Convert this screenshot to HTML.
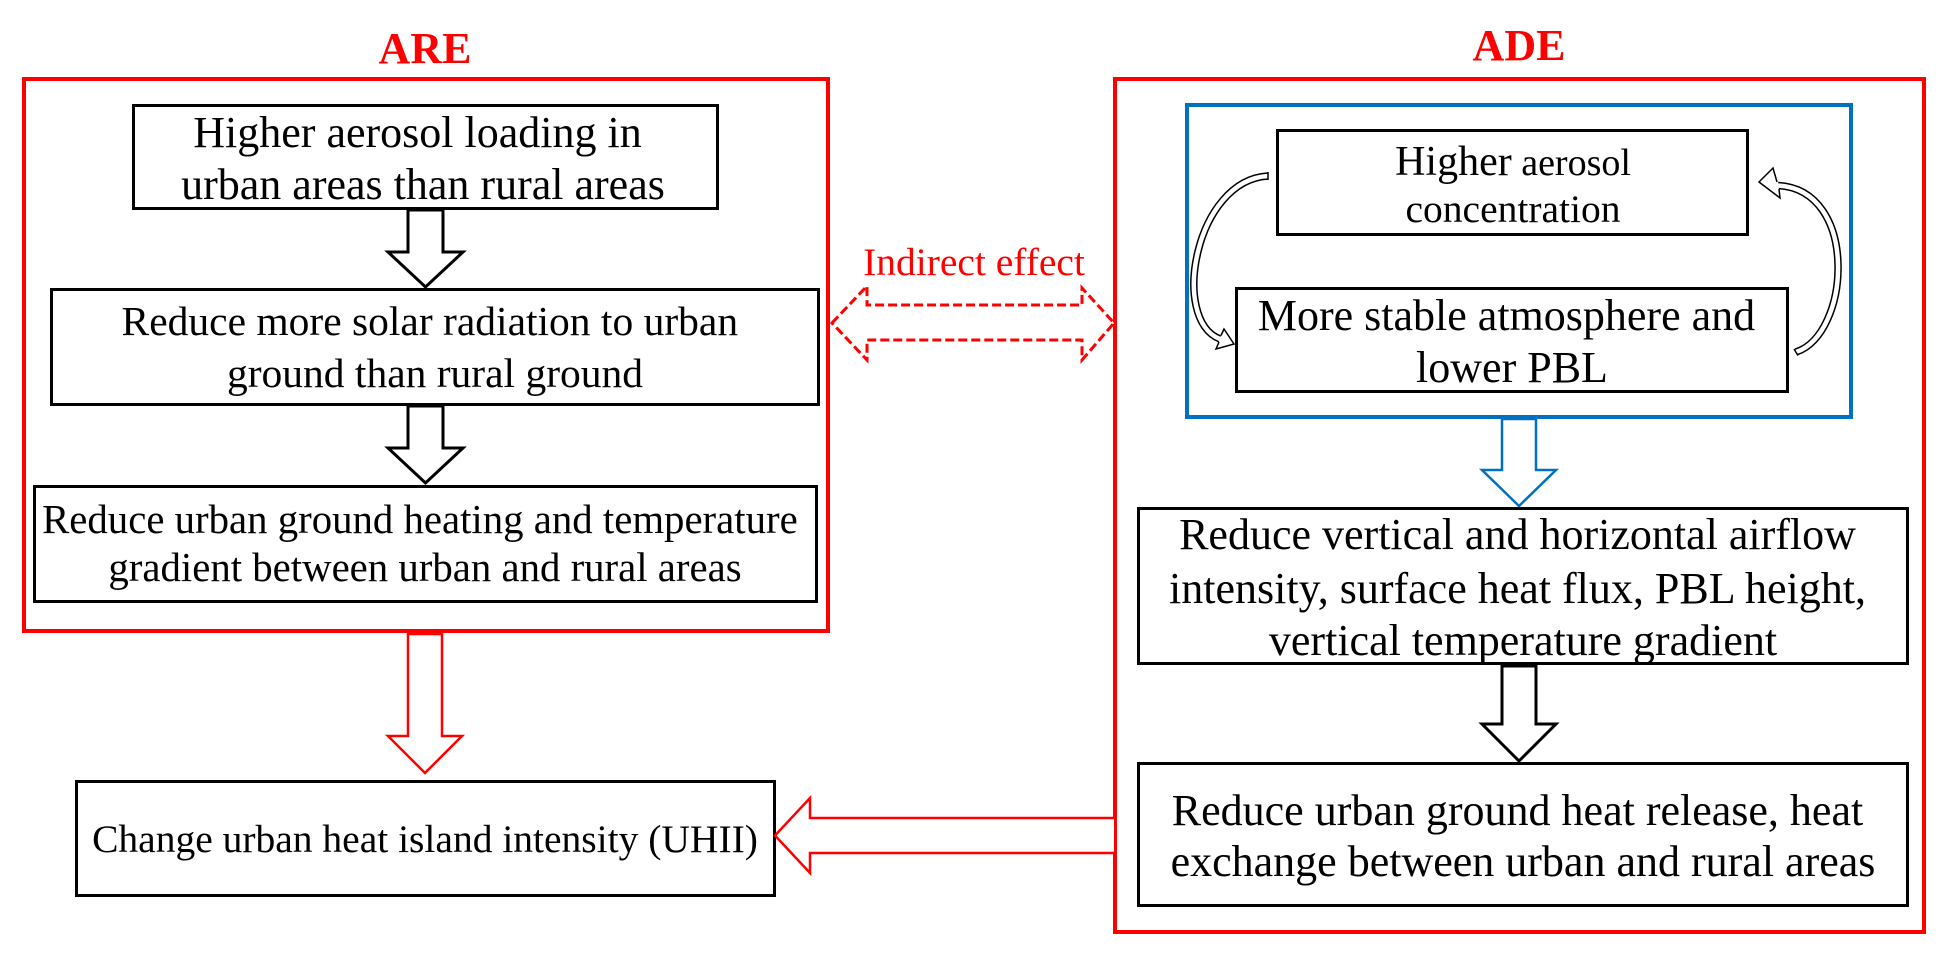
<!DOCTYPE html>
<html>
<head>
<meta charset="utf-8">
<style>
  html, body { margin: 0; padding: 0; background: #fff; }
  svg { display: block; }
  text { font-family: "Liberation Serif", "Times New Roman", serif; }
</style>
</head>
<body>
<svg width="1946" height="957" viewBox="0 0 1946 957" xmlns="http://www.w3.org/2000/svg">
  <rect x="0" y="0" width="1946" height="957" fill="#fff"/>

  <!-- Titles -->
  <text x="425" y="63" font-size="44" font-weight="bold" fill="#ff0000" text-anchor="middle">ARE</text>
  <text x="1519" y="60" font-size="44" font-weight="bold" fill="#ff0000" text-anchor="middle">ADE</text>

  <!-- Outer red boxes -->
  <rect x="24" y="79" width="804" height="552" fill="none" stroke="#ff0000" stroke-width="4"/>
  <rect x="1115" y="79" width="809" height="853" fill="none" stroke="#ff0000" stroke-width="4"/>

  <!-- Blue box -->
  <rect x="1187" y="105" width="664" height="312" fill="none" stroke="#0070c0" stroke-width="4"/>

  <!-- ARE boxes -->
  <rect x="133.5" y="105.5" width="584" height="103" fill="#fff" stroke="#000" stroke-width="3"/>
  <text font-size="44" text-anchor="middle" fill="#000">
    <tspan x="423" y="147">Higher aerosol loading in</tspan>
    <tspan x="423" y="199">urban areas than rural areas</tspan>
  </text>

  <polygon points="408,210 443,210 443,252 463,252 425.5,287 388,252 408,252" fill="#fff" stroke="#000" stroke-width="3" stroke-linejoin="miter"/>

  <rect x="51.5" y="289.5" width="767" height="115" fill="#fff" stroke="#000" stroke-width="3"/>
  <text font-size="41.5" text-anchor="middle" fill="#000">
    <tspan x="435" y="335">Reduce more solar radiation to urban</tspan>
    <tspan x="435" y="387">ground than rural ground</tspan>
  </text>

  <polygon points="408,406 443,406 443,448 463,448 425.5,483 388,448 408,448" fill="#fff" stroke="#000" stroke-width="3" stroke-linejoin="miter"/>

  <rect x="34.5" y="486.5" width="782" height="115" fill="#fff" stroke="#000" stroke-width="3"/>
  <text font-size="40.8" text-anchor="middle" fill="#000">
    <tspan x="425" y="533">Reduce urban ground heating and temperature</tspan>
    <tspan x="425" y="581">gradient between urban and rural areas</tspan>
  </text>

  <!-- Red down arrow -->
  <polygon points="408,634 442,634 442,736 462,736 425,773 388,736 408,736" fill="#fff" stroke="#ff0000" stroke-width="2.5"/>

  <!-- UHII box -->
  <rect x="76.5" y="781.5" width="698" height="114" fill="#fff" stroke="#000" stroke-width="3"/>
  <text x="425" y="852" font-size="39.5" text-anchor="middle" fill="#000">Change urban heat island intensity (UHII)</text>

  <!-- Red left arrow -->
  <path d="M1114,818 L810,818 L810,798 L775,835.5 L810,873 L810,853 L1114,853" fill="#fff" stroke="#ff0000" stroke-width="2.5"/>

  <!-- Indirect effect dashed double arrow -->
  <text x="974" y="275" font-size="39.5" text-anchor="middle" fill="#ff0000">Indirect effect</text>
  <polygon points="832,323 867,286 867,305 1082,305 1082,288 1114,323 1082,360 1082,340 867,340 867,360" fill="#fff" stroke="#ff0000" stroke-width="3" stroke-dasharray="9,4"/>

  <!-- ADE inner boxes -->
  <rect x="1277.5" y="130.5" width="470" height="104" fill="#fff" stroke="#000" stroke-width="3"/>
  <text text-anchor="middle" fill="#000" x="1513" y="175"><tspan font-size="42">Higher</tspan><tspan font-size="38"> aerosol</tspan></text>
  <text x="1513" y="222" font-size="39.5" text-anchor="middle" fill="#000">concentration</text>

  <rect x="1236.5" y="288.5" width="551" height="103" fill="#fff" stroke="#000" stroke-width="3"/>
  <text font-size="44" text-anchor="middle" fill="#000">
    <tspan x="1512" y="330">More stable atmosphere and</tspan>
    <tspan x="1512" y="382">lower PBL</tspan>
  </text>

  <!-- Curved arrows -->
  <path d="M1268,176 C1195,180 1170,320 1220,339" fill="none" stroke="#000" stroke-width="7.5"/>
  <path d="M1268,176 C1195,180 1170,320 1220,339" fill="none" stroke="#fff" stroke-width="4.5"/>
  <line x1="1268" y1="172" x2="1268" y2="180" stroke="#000" stroke-width="1.5"/>
  <path d="M1221,335.5 L1224,329 L1234,344 L1216,349 L1219,342" fill="#fff" stroke="#000" stroke-width="1.5" stroke-linejoin="miter"/>

  <path d="M1796,352 C1850,335 1860,190 1778,185.5" fill="none" stroke="#000" stroke-width="7.5"/>
  <path d="M1796,352 C1850,335 1860,190 1778,185.5" fill="none" stroke="#fff" stroke-width="4.5"/>
  <line x1="1794" y1="349" x2="1798" y2="355.5" stroke="#000" stroke-width="1.5"/>
  <path d="M1777,182 L1773,168 L1759,182 L1780,198 L1779,189" fill="#fff" stroke="#000" stroke-width="1.5" stroke-linejoin="miter"/>

  <!-- Blue arrow -->
  <polygon points="1502,419 1536,419 1536,470 1556,470 1519,506 1482,470 1502,470" fill="#fff" stroke="#0070c0" stroke-width="2.5"/>

  <rect x="1138.5" y="508.5" width="769" height="155" fill="#fff" stroke="#000" stroke-width="3"/>
  <text font-size="44" text-anchor="middle" fill="#000">
    <tspan x="1523" y="549">Reduce vertical and horizontal airflow</tspan>
    <tspan x="1523" y="603">intensity, surface heat flux, PBL height,</tspan>
    <tspan x="1523" y="655">vertical temperature gradient</tspan>
  </text>

  <polygon points="1502,666 1536,666 1536,724 1556,724 1519,761 1482,724 1502,724" fill="#fff" stroke="#000" stroke-width="3"/>

  <rect x="1138.5" y="763.5" width="769" height="142" fill="#fff" stroke="#000" stroke-width="3"/>
  <text font-size="44" text-anchor="middle" fill="#000">
    <tspan x="1523" y="825">Reduce urban ground heat release, heat</tspan>
    <tspan x="1523" y="876">exchange between urban and rural areas</tspan>
  </text>
</svg>
</body>
</html>
